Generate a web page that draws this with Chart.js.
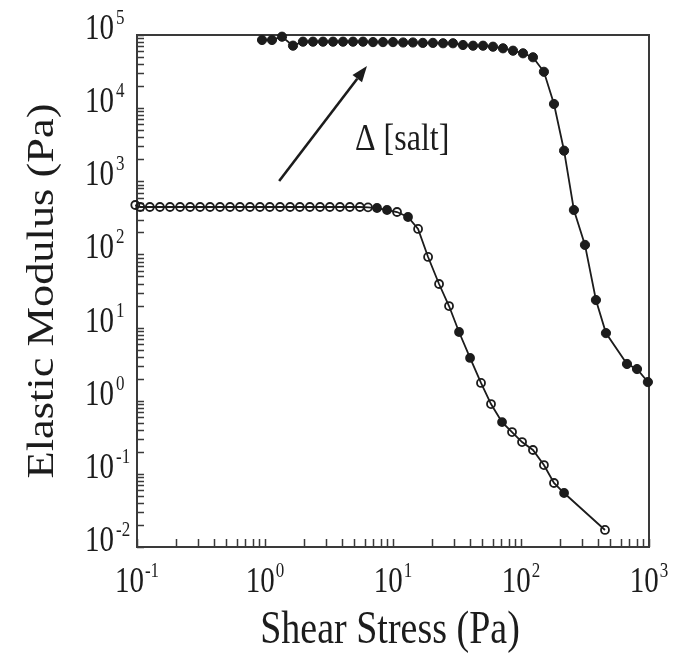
<!DOCTYPE html>
<html>
<head>
<meta charset="utf-8">
<script src="https://cdn.jsdelivr.net/npm/chart.js@4.4.1/dist/chart.umd.min.js"></script>
<style>
  html, body { margin: 0; padding: 0; background: #fff; }
  #wrap { width: 673px; height: 668px; position: relative; }
</style>
</head>
<body>
<div id="wrap"><canvas id="modulusChart"></canvas></div>
<script>
/* ================================================
   DATA
================================================ */
// low salt: open circles
const lowSaltStress = [
  0.097, 0.106, 0.126, 0.151, 0.181, 0.217, 0.260, 0.311, 0.372, 0.445,
  0.533, 0.637, 0.763, 0.913, 1.09, 1.31, 1.57, 1.87, 2.24, 2.69,
  3.21, 3.85, 4.60, 5.51, 6.38, 7.50, 8.98, 10.75, 13.1, 15.7,
  18.8, 22.9, 27.4, 32.8, 40.0, 48.7, 58.3, 71.1, 85.1, 101.9,
  124, 151, 181, 217, 453
];
const lowSaltModulus = [
  474, 445, 445, 445, 445, 445, 445, 445, 445, 445,
  445, 445, 445, 445, 445, 445, 445, 445, 445, 445,
  445, 445, 445, 445, 440, 431, 405, 380, 325, 223,
  92.3, 39.4, 19.7, 8.7, 3.84, 1.75, 0.90, 0.51, 0.373, 0.272,
  0.212, 0.132, 0.075, 0.0547, 0.0171
];

// high salt: filled circles
const highSaltStress = [
  0.948, 1.134, 1.358, 1.655, 1.98, 2.37, 2.84, 3.40, 4.07, 4.87,
  5.83, 6.98, 8.35, 10.0, 12.0, 14.3, 17.1, 20.5, 24.6, 29.4,
  35.2, 42.2, 50.5, 60.4, 72.3, 86.6, 103.7, 124, 151, 181,
  217, 259, 316, 385, 461, 673, 806, 980
];
const highSaltModulus = [
  85500, 85500, 94800, 71500, 81000, 81000, 81000, 81000, 81000, 81000,
  81000, 80000, 80000, 80000, 79000, 79000, 78000, 78000, 77100, 77100,
  73000, 71400, 71400, 69200, 65800, 61000, 56200, 49600, 31400, 11400,
  2620, 405, 135, 23.8, 8.4, 3.18, 2.71, 1.80
];

const xExponents = [-1, 0, 1, 2, 3];
const yExponents = [-2, -1, 0, 1, 2, 3, 4, 5];
const xTitle = 'Shear Stress (Pa)';
const yTitle = 'Elastic Modulus (Pa)';
const saltNote = 'Δ [salt]';

// annotation anchors, in data units
const arrowTail = { x: 1.29, y: 1010 };
const arrowHead = { x: 6.26, y: 37700 };
const noteAt    = { x: 5.05, y: 2680 };

/* ================================================
   STYLE
================================================ */
const INK      = '#1c1c1c';
const FRAME    = '#3a3a3a';
const SERIF    = '"Liberation Serif", "DejaVu Serif", serif';
const STRETCH  = 1.2;           // glyphs in the figure are a bit tall
const lowFilled = [25, 26, 28, 33, 34, 37, 43];

function stretchedText(ctx, text, x, y, size, align) {
  ctx.save();
  ctx.translate(x, y);
  ctx.scale(1, STRETCH);
  ctx.font = `${size}px ${SERIF}`;
  ctx.textAlign = align;
  ctx.textBaseline = 'alphabetic';
  ctx.fillText(text, 0, 0);
  ctx.restore();
}

function textWidth(ctx, text, size) {
  ctx.save();
  ctx.font = `${size}px ${SERIF}`;
  const w = ctx.measureText(text).width;
  ctx.restore();
  return w;
}

/* ================================================
   FRAME / TICKS / LABELS PLUGIN
================================================ */
const framePlugin = {
  id: 'frame',
  beforeDatasetsDraw(chart) {
    const { ctx, chartArea: a, scales: { x, y } } = chart;
    ctx.save();
    ctx.strokeStyle = FRAME;
    ctx.lineWidth = 1.5;

    // inward ticks, bottom and left only
    ctx.beginPath();
    xExponents.forEach(e => {
      for (let m = 1; m <= 9; m++) {
        const v = m * Math.pow(10, e);
        if (v > x.max) break;
        const px = Math.round(x.getPixelForValue(v)) + 0.5;
        ctx.moveTo(px, a.bottom);
        ctx.lineTo(px, a.bottom - 8);
      }
    });
    yExponents.forEach(e => {
      for (let m = 1; m <= 9; m++) {
        const v = m * Math.pow(10, e);
        if (v > y.max) break;
        const py = Math.round(y.getPixelForValue(v)) + 0.5;
        ctx.moveTo(a.left, py);
        ctx.lineTo(a.left + 7, py);
      }
    });
    ctx.stroke();

    // box
    ctx.lineWidth = 2;
    ctx.strokeRect(a.left, a.top, a.right - a.left, a.bottom - a.top);
    ctx.restore();
  },
  afterDraw(chart) {
    const { ctx, chartArea: a, scales: { x, y } } = chart;
    ctx.save();
    ctx.fillStyle = INK;

    // x tick labels: 10 with raised exponent, centred on the decade
    xExponents.forEach(e => {
      const px = x.getPixelForValue(Math.pow(10, e));
      const exp = String(e);
      const w1 = textWidth(ctx, '10', 29);
      const w2 = textWidth(ctx, exp, 17);
      const left = px - (w1 + 1 + w2) / 2;
      stretchedText(ctx, '10', left, a.bottom + 45, 29, 'left');
      stretchedText(ctx, exp, left + w1 + 1, a.bottom + 30, 17, 'left');
    });

    // y tick labels
    yExponents.forEach(e => {
      const py = y.getPixelForValue(Math.pow(10, e));
      stretchedText(ctx, '10', a.left - 23, py + 4, 29, 'right');
      stretchedText(ctx, String(e), a.left - 21, py - 11, 17, 'left');
    });

    // axis titles
    stretchedText(ctx, xTitle, (a.left + a.right) / 2 - 3, 643, 38, 'center');
    ctx.save();
    ctx.translate(53, (a.top + a.bottom) / 2);
    ctx.rotate(-Math.PI / 2);
    ctx.scale(STRETCH, 1);
    ctx.font = `37px ${SERIF}`;
    ctx.textAlign = 'center';
    ctx.fillText(yTitle, 0, 0);
    ctx.restore();

    // salt arrow
    const tx = x.getPixelForValue(arrowTail.x), ty = y.getPixelForValue(arrowTail.y);
    const hx = x.getPixelForValue(arrowHead.x), hy = y.getPixelForValue(arrowHead.y);
    const ang = Math.atan2(hy - ty, hx - tx);
    const headLen = 16, headHalf = 6;
    const bx = hx - headLen * Math.cos(ang), by = hy - headLen * Math.sin(ang);
    ctx.strokeStyle = INK;
    ctx.lineWidth = 2.6;
    ctx.beginPath();
    ctx.moveTo(tx, ty);
    ctx.lineTo(bx, by);
    ctx.stroke();
    ctx.beginPath();
    ctx.moveTo(hx, hy);
    ctx.lineTo(bx + headHalf * Math.sin(ang), by - headHalf * Math.cos(ang));
    ctx.lineTo(bx - headHalf * Math.sin(ang), by + headHalf * Math.cos(ang));
    ctx.closePath();
    ctx.fill();

    stretchedText(ctx, saltNote, x.getPixelForValue(noteAt.x), y.getPixelForValue(noteAt.y), 32, 'left');
    ctx.restore();
  }
};

/* ================================================
   CHART
================================================ */
const toPoints = (xs, ys) => xs.map((v, i) => ({ x: v, y: ys[i] }));

new Chart(document.getElementById('modulusChart'), {
  type: 'scatter',
  data: {
    datasets: [
      {
        label: 'high salt',
        data: toPoints(highSaltStress, highSaltModulus),
        showLine: true,
        borderColor: INK,
        borderWidth: 1.8,
        pointRadius: 4.6,
        pointBackgroundColor: INK,
        pointBorderColor: INK,
        pointBorderWidth: 1,
        tension: 0,
        clip: false,
      },
      {
        label: 'low salt',
        data: toPoints(lowSaltStress, lowSaltModulus),
        showLine: true,
        borderColor: INK,
        borderWidth: 1.8,
        pointRadius: 4,
        pointBackgroundColor: ctx => lowFilled.includes(ctx.dataIndex) ? INK : 'rgba(0,0,0,0)',
        pointBorderColor: INK,
        pointBorderWidth: 1.8,
        tension: 0,
        clip: false,
      },
    ],
  },
  options: {
    responsive: true,
    maintainAspectRatio: false,
    animation: false,
    layout: { padding: { left: 137, right: 24, top: 35, bottom: 121 } },
    plugins: { legend: { display: false }, tooltip: { enabled: false } },
    scales: {
      x: { type: 'logarithmic', min: 0.1, max: 1000, display: false },
      y: { type: 'logarithmic', min: 0.01, max: 100000, display: false },
    },
  },
  plugins: [framePlugin],
});
</script>
</body>
</html>
